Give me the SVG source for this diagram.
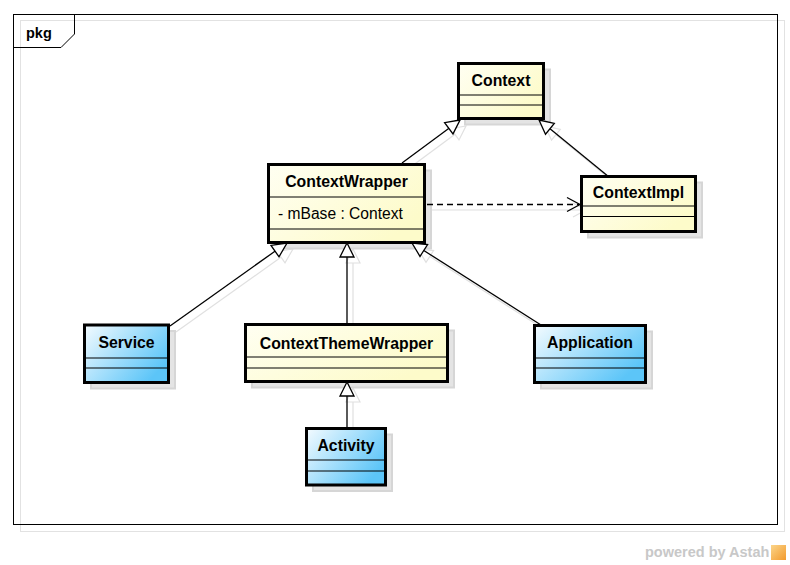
<svg xmlns="http://www.w3.org/2000/svg" width="790" height="565" viewBox="0 0 790 565">
<defs>
<linearGradient id="gy" x1="0" y1="0" x2="1" y2="0.6"><stop offset="0" stop-color="#fffff2"/><stop offset="1" stop-color="#fdfbca"/></linearGradient>
<linearGradient id="gb" x1="0" y1="0" x2="1" y2="0.6"><stop offset="0" stop-color="#f4fbff"/><stop offset="1" stop-color="#5cc5f8"/></linearGradient>
<linearGradient id="go" x1="0" y1="0" x2="1" y2="1"><stop offset="0" stop-color="#fbd58a"/><stop offset="1" stop-color="#f39a2c"/></linearGradient>
<style>
.frame{fill:none;stroke:#000;stroke-width:1}
.fshadow{fill:none;stroke:#e2e2e2;stroke-width:1}
.shadow{fill:#e4e4e4;stroke:#d6d6d6;stroke-width:2}
.box{stroke:#000;stroke-width:3}
.y{fill:url(#gy)}
.b{fill:url(#gb)}
.sep{stroke:#000;stroke-width:1}
.title{font-family:"Liberation Sans",Arial,sans-serif;font-weight:bold;font-size:15.8px;fill:#000;text-anchor:middle}
.attr{font-family:"Liberation Sans",Arial,sans-serif;font-size:15.6px;fill:#000}
.e{fill:none;stroke:#000;stroke-width:1.3}
.tri{fill:#fff;stroke:#000;stroke-width:1.3}
.es{fill:none;stroke:#e0e0e0;stroke-width:1.2}
.ts{fill:#fff;stroke:#e0e0e0;stroke-width:1.2}
.dash{stroke-dasharray:6,4}
</style>
</defs>
<rect width="790" height="565" fill="#fff"/>
<g id="frame">
<rect class="fshadow" x="20.5" y="20.5" width="764" height="511"/>
<rect class="frame" x="13.5" y="14.5" width="764" height="510"/>
<path class="frame" d="M13.5,47.5 H61 L74.5,34 V14.5"/>
<text x="26" y="37.5" style="font-family:'Liberation Sans',Arial,sans-serif;font-weight:bold;font-size:14.5px">pkg</text>
</g>
<g id="connector-shadows" transform="translate(6,6)">
<line class="es" x1="402" y1="163" x2="449" y2="128.3"/>
<polygon class="ts" points="460,120 444.6,122.7 453,133.9"/>
<line class="es" x1="609" y1="177" x2="550" y2="128.8"/>
<polygon class="ts" points="539,120 554.3,123.4 545.5,134.2"/>
<line class="es" x1="426" y1="204" x2="580" y2="204"/>
<polyline class="es" points="567,197 580,204 567,211"/>
<line class="es" x1="170" y1="326" x2="276" y2="250.5"/>
<polygon class="ts" points="287,243 271,245.4 279,256.8"/>
<line class="es" x1="347" y1="257" x2="347" y2="324"/>
<polygon class="ts" points="347,243 340,257 354,257"/>
<line class="es" x1="541" y1="325" x2="423.8" y2="250.5"/>
<polygon class="ts" points="412,243 427.6,244.6 420,256.4"/>
<line class="es" x1="347" y1="396" x2="347" y2="427"/>
<polygon class="ts" points="347,382 340,396 354,396"/>
</g>
<g id="Context">
<rect class="shadow" x="465" y="69.5" width="85" height="55"/>
<rect class="box y" x="458.5" y="63.5" width="85" height="55"/>
<line class="sep" x1="458.5" y1="95" x2="543.5" y2="95"/>
<line class="sep" x1="458.5" y1="105" x2="543.5" y2="105"/>
<text class="title" x="501" y="86">Context</text>
</g>
<g id="ContextImpl">
<rect class="shadow" x="588" y="182.5" width="114" height="55"/>
<rect class="box y" x="581.5" y="176.5" width="114" height="55"/>
<line class="sep" x1="581.5" y1="206" x2="695.5" y2="206"/>
<line class="sep" x1="581.5" y1="216.5" x2="695.5" y2="216.5"/>
<text class="title" x="638.5" y="198">ContextImpl</text>
</g>
<g id="ContextWrapper">
<rect class="shadow" x="275" y="170.5" width="156" height="78"/>
<rect class="box y" x="268.5" y="164.5" width="156" height="78"/>
<line class="sep" x1="268.5" y1="197" x2="424.5" y2="197"/>
<line class="sep" x1="268.5" y1="229" x2="424.5" y2="229"/>
<text class="title" x="346.5" y="187">ContextWrapper</text>
<text class="attr" x="278" y="218.5">- mBase : Context</text>
</g>
<g id="Service">
<rect class="shadow" x="91" y="331" width="84" height="57.5"/>
<rect class="box b" x="84.5" y="325" width="84" height="57.5"/>
<line class="sep" x1="84.5" y1="358" x2="168.5" y2="358"/>
<line class="sep" x1="84.5" y1="368" x2="168.5" y2="368"/>
<text class="title" x="126.5" y="348">Service</text>
</g>
<g id="ContextThemeWrapper">
<rect class="shadow" x="252" y="330.5" width="202" height="57"/>
<rect class="box y" x="245.5" y="324.5" width="202" height="57"/>
<line class="sep" x1="245.5" y1="357" x2="447.5" y2="357"/>
<line class="sep" x1="245.5" y1="368" x2="447.5" y2="368"/>
<text class="title" x="346.5" y="348.5">ContextThemeWrapper</text>
</g>
<g id="Activity">
<rect class="shadow" x="313" y="434.5" width="79" height="56.5"/>
<rect class="box b" x="306.5" y="428.5" width="79" height="56.5"/>
<line class="sep" x1="306.5" y1="460" x2="385.5" y2="460"/>
<line class="sep" x1="306.5" y1="471" x2="385.5" y2="471"/>
<text class="title" x="346" y="451">Activity</text>
</g>
<g id="Application">
<rect class="shadow" x="541" y="331.5" width="111" height="57"/>
<rect class="box b" x="534.5" y="325.5" width="111" height="57"/>
<line class="sep" x1="534.5" y1="358" x2="645.5" y2="358"/>
<line class="sep" x1="534.5" y1="368" x2="645.5" y2="368"/>
<text class="title" x="590" y="348">Application</text>
</g>
<g id="connectors">
<line class="e" x1="402" y1="163" x2="449" y2="128.3"/>
<polygon class="tri" points="460,120 444.6,122.7 453,133.9"/>
<line class="e" x1="609" y1="177" x2="550" y2="128.8"/>
<polygon class="tri" points="539,120 554.3,123.4 545.5,134.2"/>
<line class="e dash" x1="427" y1="204.5" x2="579" y2="204.5"/>
<polyline class="e" points="567,197.5 580,204.5 567,211.5"/>
<line class="e" x1="170" y1="326" x2="276" y2="250.5"/>
<polygon class="tri" points="287,243 271,245.4 279,256.8"/>
<line class="e" x1="347" y1="257" x2="347" y2="324"/>
<polygon class="tri" points="347,243 340,257 354,257"/>
<line class="e" x1="541" y1="325" x2="423.8" y2="250.5"/>
<polygon class="tri" points="412,243 427.6,244.6 420,256.4"/>
<line class="e" x1="347" y1="396" x2="347" y2="427"/>
<polygon class="tri" points="347,382 340,396 354,396"/>
</g>
<g id="watermark">
<text x="645" y="557" style="font-family:'Liberation Sans',Arial,sans-serif;font-weight:bold;font-size:14.5px;fill:#c8c8c8">powered by Astah</text>
<rect x="771" y="545" width="15" height="15" fill="url(#go)"/>
</g>
</svg>
